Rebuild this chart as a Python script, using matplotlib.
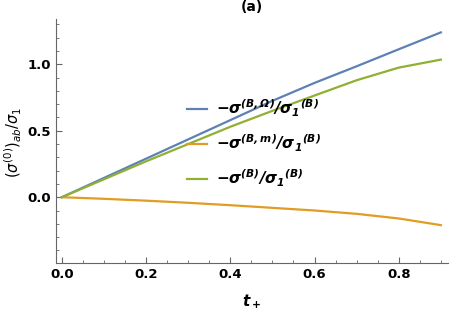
import numpy as np
import matplotlib.pyplot as plt
from matplotlib.ticker import MultipleLocator

plt.rcParams['mathtext.fontset'] = 'custom'
plt.rcParams['mathtext.rm'] = 'DejaVu Sans'
plt.rcParams['mathtext.it'] = 'DejaVu Sans:italic'
plt.rcParams['mathtext.bf'] = 'DejaVu Sans:italic:bold'

# values
t = [0.0, 0.1, 0.2, 0.3, 0.4, 0.5, 0.6, 0.7, 0.8, 0.9]
sig_omega = [0.0, 0.145, 0.29, 0.435, 0.58, 0.725, 0.86, 0.985, 1.113, 1.24]
sig_m = [0.0, -0.012, -0.026, -0.042, -0.06, -0.08, -0.10, -0.125, -0.16, -0.21]
sig_b = [0.0, 0.135, 0.27, 0.40, 0.53, 0.65, 0.765, 0.88, 0.975, 1.035]

labels = [r'$\mathbf{-\sigma^{(B,\Omega)}/\sigma_1{}^{(B)}}$',
          r'$\mathbf{-\sigma^{(B,m)}/\sigma_1{}^{(B)}}$',
          r'$\mathbf{-\sigma^{(B)}/\sigma_1{}^{(B)}}$']
colors = ['#5E81B5', '#E19C24', '#8FB032']

fig = plt.figure(figsize=(4.5, 3.13), dpi=100)
ax = fig.add_axes([0.1244, 0.1597, 0.8712, 0.7793])

for y, lab, c in zip([sig_omega, sig_m, sig_b], labels, colors):
    ax.plot(t, y, color=c, lw=1.6, label=lab)

ax.set_xlim(-0.014, 0.917)
ax.set_ylim(-0.495, 1.34)
ax.xaxis.set_major_locator(MultipleLocator(0.2))
ax.xaxis.set_minor_locator(MultipleLocator(0.05))
ax.yaxis.set_major_locator(MultipleLocator(0.5))
ax.yaxis.set_minor_locator(MultipleLocator(0.1))

for s in ['top', 'right']:
    ax.spines[s].set_visible(False)
for s in ['left', 'bottom']:
    ax.spines[s].set_color('#666666')
ax.tick_params(which='major', direction='in', length=4, color='#666666',
               labelsize=9.5)
ax.tick_params(which='minor', direction='in', length=2.5, color='#666666')
for lbl in ax.get_xticklabels() + ax.get_yticklabels():
    lbl.set_fontweight('bold')

ax.set_xlabel(r'$\mathbf{t_+}$', fontsize=11, labelpad=8)
fig.text(13 / 450, 1 - 142 / 313, r'$(\sigma^{(0)})_{ab}/\sigma_1$',
         rotation=90, ha='center', va='center', fontsize=10.5)
ax.set_title('(a)', fontsize=10, fontweight='bold', pad=6)

ax.legend(loc='center left', bbox_to_anchor=(0.3, 0.49), frameon=False,
          fontsize=11, handlelength=1.3, handletextpad=0.6,
          labelspacing=0.9)

fig.savefig('out.png', dpi=100)
